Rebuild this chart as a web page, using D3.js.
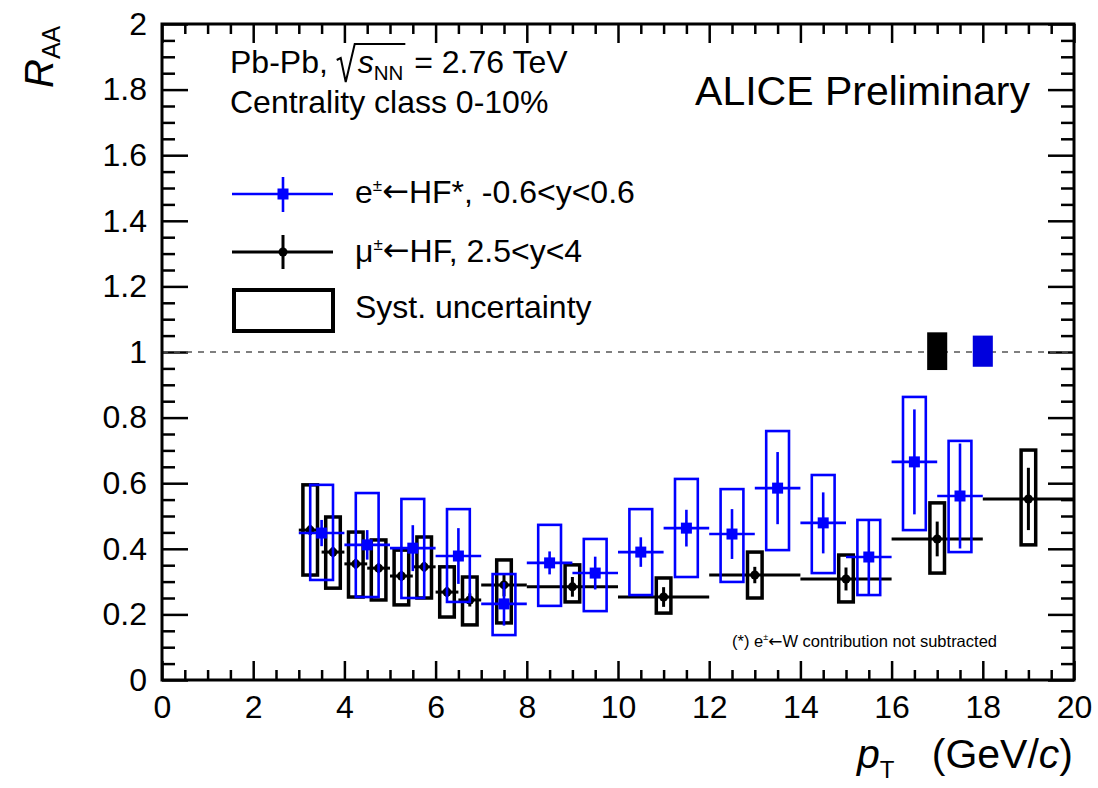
<!DOCTYPE html>
<html>
<head>
<meta charset="utf-8">
<script src="https://cdn.jsdelivr.net/npm/d3@7"></script>
<style>
  body { margin: 0; background: #fff; }
  svg { display: block; }
  text { font-family: "Liberation Sans", Arial, Helvetica, sans-serif; fill: #000; }
</style>
</head>
<body>
<svg id="chart" width="1098" height="788"></svg>
<script>
// ---- Heavy-flavour decay electrons, |y| < 0.6 (pT bins of 1 GeV/c) ----
const ePtLo   = [3, 4, 5, 6, 7, 8, 9, 10, 11, 12, 13, 14, 15, 16, 17];
const ePtHi   = [4, 5, 6, 7, 8, 9, 10, 11, 12, 13, 14, 15, 16, 17, 18];
const eRaa    = [0.448, 0.412, 0.402, 0.378, 0.232, 0.357, 0.326, 0.390, 0.463, 0.445, 0.585, 0.479, 0.375, 0.665, 0.561];
const eStat   = [0.040, 0.045, 0.070, 0.085, 0.066, 0.035, 0.050, 0.045, 0.056, 0.076, 0.110, 0.093, 0.115, 0.160, 0.160];
const eSysLo  = [0.305, 0.253, 0.250, 0.238, 0.137, 0.226, 0.210, 0.259, 0.314, 0.299, 0.396, 0.326, 0.259, 0.457, 0.390];
const eSysHi  = [0.595, 0.570, 0.552, 0.521, 0.323, 0.473, 0.430, 0.521, 0.613, 0.582, 0.759, 0.625, 0.488, 0.863, 0.729];

// ---- Heavy-flavour decay muons, 2.5 < y < 4 ----
const muPtLo  = [3.0, 3.5, 4.0, 4.5, 5.0, 5.5, 6.0, 6.5, 7, 8, 10, 12, 14, 16, 18];
const muPtHi  = [3.5, 4.0, 4.5, 5.0, 5.5, 6.0, 6.5, 7.0, 8, 10, 12, 14, 16, 18, 20];
const muRaa   = [0.457, 0.390, 0.354, 0.341, 0.317, 0.345, 0.268, 0.244, 0.290, 0.284, 0.253, 0.320, 0.308, 0.430, 0.552];
const muStat  = [0.015, 0.015, 0.015, 0.015, 0.015, 0.015, 0.015, 0.020, 0.035, 0.030, 0.030, 0.025, 0.035, 0.053, 0.095];
const muSysLo = [0.320, 0.280, 0.253, 0.244, 0.229, 0.250, 0.192, 0.168, 0.174, 0.238, 0.204, 0.250, 0.238, 0.326, 0.412];
const muSysHi = [0.595, 0.497, 0.451, 0.427, 0.396, 0.436, 0.345, 0.314, 0.366, 0.351, 0.311, 0.390, 0.381, 0.540, 0.701];

// ---- Normalisation uncertainties at R_AA = 1 ----
const normSeries = ["mu", "e"];
const normPt     = [17, 18];
const normLo     = [0.945, 0.955];
const normHi     = [1.060, 1.050];

// ---- Axis ticks ----
const xMajorTicks = d3.range(0, 20.001, 2);
const xMinorTicks = d3.range(0, 20.001, 0.5).filter(v => Math.abs(v / 2 - Math.round(v / 2)) > 1e-6);
const yMajorTicks = d3.range(0, 2.0001, 0.2).map(v => +v.toFixed(2));
const yMinorTicks = d3.range(0, 2.0001, 0.05).map(v => +v.toFixed(2)).filter(v => Math.abs(v / 0.2 - Math.round(v / 0.2)) > 1e-6);

// ---- Styling ----
const BLUE = "#0000ff";
const FONT = "\"Liberation Sans\", Arial, Helvetica, sans-serif";
const ARROW_FONT = "\"DejaVu Sans\", sans-serif";
const eBoxHalf = 0.25, muBoxHalf = 0.16;

const svg = d3.select("#chart");
const pLeft = 162, pRight = 1074, pTop = 24, pBottom = 680;
const x = d3.scaleLinear().domain([0, 20]).range([pLeft, pRight]);
const y = d3.scaleLinear().domain([0, 2]).range([pBottom, pTop]);

// ---- Axes (ticks pointing into the frame) ----
function styleAxis(g, width) {
  g.select(".domain").remove();
  g.selectAll(".tick line").attr("stroke", "#000").attr("stroke-width", width);
  g.selectAll(".tick text").attr("font-size", 32).style("font-family", FONT).attr("fill", "#000");
}
const yFmt = d => String(+d.toFixed(1));

svg.append("g").attr("transform", `translate(0,${pBottom})`)
  .call(d3.axisBottom(x).tickValues(xMajorTicks).tickSize(-19).tickPadding(15).tickFormat(d3.format("d")))
  .call(g => styleAxis(g, 2.5));
svg.append("g").attr("transform", `translate(0,${pBottom})`)
  .call(d3.axisBottom(x).tickValues(xMinorTicks).tickSize(-10).tickFormat(""))
  .call(g => styleAxis(g, 2.5));
svg.append("g").attr("transform", `translate(0,${pTop})`)
  .call(d3.axisTop(x).tickValues(xMajorTicks).tickSize(-19).tickFormat(""))
  .call(g => styleAxis(g, 2.5));
svg.append("g").attr("transform", `translate(0,${pTop})`)
  .call(d3.axisTop(x).tickValues(xMinorTicks).tickSize(-10).tickFormat(""))
  .call(g => styleAxis(g, 2.5));

svg.append("g").attr("transform", `translate(${pLeft},0)`)
  .call(d3.axisLeft(y).tickValues(yMajorTicks).tickSize(-26).tickPadding(15).tickFormat(yFmt))
  .call(g => styleAxis(g, 2.5));
svg.append("g").attr("transform", `translate(${pLeft},0)`)
  .call(d3.axisLeft(y).tickValues(yMinorTicks).tickSize(-13).tickFormat(""))
  .call(g => styleAxis(g, 2.5));
svg.append("g").attr("transform", `translate(${pRight},0)`)
  .call(d3.axisRight(y).tickValues(yMajorTicks).tickSize(-26).tickFormat(""))
  .call(g => styleAxis(g, 2.5));
svg.append("g").attr("transform", `translate(${pRight},0)`)
  .call(d3.axisRight(y).tickValues(yMinorTicks).tickSize(-13).tickFormat(""))
  .call(g => styleAxis(g, 2.5));

// Reference line at R_AA = 1
svg.append("line")
  .attr("x1", x(0)).attr("x2", x(20)).attr("y1", y(1)).attr("y2", y(1))
  .attr("stroke", "#555").attr("stroke-width", 1.6).attr("stroke-dasharray", "6,6");

// ---- Normalisation boxes ----
svg.append("g").selectAll("rect").data(normSeries).join("rect")
  .attr("x", (d, i) => x(normPt[i] - 0.22))
  .attr("width", (d, i) => x(normPt[i] + 0.22) - x(normPt[i] - 0.22))
  .attr("y", (d, i) => y(normHi[i]))
  .attr("height", (d, i) => y(normLo[i]) - y(normHi[i]))
  .attr("fill", d => d === "e" ? "#0000dd" : "#000");

// ---- Data series ----
function drawSeries(lo, hi, val, stat, sysLo, sysHi, opt) {
  const idx = d3.range(val.length);
  const g = svg.append("g");
  const mid = i => (lo[i] + hi[i]) / 2;
  // systematic boxes
  g.selectAll("rect.sys").data(idx).join("rect").attr("class", "sys")
    .attr("x", i => x(mid(i) - opt.boxHalf))
    .attr("width", i => x(mid(i) + opt.boxHalf) - x(mid(i) - opt.boxHalf))
    .attr("y", i => y(sysHi[i]))
    .attr("height", i => y(sysLo[i]) - y(sysHi[i]))
    .attr("fill", "none").attr("stroke", opt.color).attr("stroke-width", opt.boxWidth);
  // horizontal bin-width bars
  g.selectAll("line.h").data(idx).join("line").attr("class", "h")
    .attr("x1", i => x(lo[i])).attr("x2", i => x(hi[i]))
    .attr("y1", i => y(val[i])).attr("y2", i => y(val[i]))
    .attr("stroke", opt.color).attr("stroke-width", opt.lineWidth);
  // statistical error bars
  g.selectAll("line.v").data(idx).join("line").attr("class", "v")
    .attr("x1", i => x(mid(i))).attr("x2", i => x(mid(i)))
    .attr("y1", i => y(val[i] - stat[i])).attr("y2", i => y(val[i] + stat[i]))
    .attr("stroke", opt.color).attr("stroke-width", opt.lineWidth);
  // markers
  if (opt.marker === "square") {
    g.selectAll("rect.m").data(idx).join("rect").attr("class", "m")
      .attr("x", i => x(mid(i)) - 5.5).attr("y", i => y(val[i]) - 5.5)
      .attr("width", 11).attr("height", 11).attr("fill", opt.color);
  } else {
    g.selectAll("circle.m").data(idx).join("circle").attr("class", "m")
      .attr("cx", i => x(mid(i))).attr("cy", i => y(val[i])).attr("r", 4.5).attr("fill", opt.color);
  }
}
drawSeries(muPtLo, muPtHi, muRaa, muStat, muSysLo, muSysHi,
  { color: "#000", boxHalf: muBoxHalf, boxWidth: 3.5, lineWidth: 3, marker: "circle" });
drawSeries(ePtLo, ePtHi, eRaa, eStat, eSysLo, eSysHi,
  { color: BLUE, boxHalf: eBoxHalf, boxWidth: 2.6, lineWidth: 2.6, marker: "square" });

// ---- Frame ----
svg.append("rect").attr("x", pLeft).attr("y", pTop)
  .attr("width", pRight - pLeft).attr("height", pBottom - pTop)
  .attr("fill", "none").attr("stroke", "#000").attr("stroke-width", 3);

// ---- Rich text helper: lays out runs of differently styled text ----
function textRuns(parent, x0, y0, parts, anchor) {
  const g = parent.append("g");
  let cx = 0;
  const placed = [];
  parts.forEach(p => {
    const t = g.append("text")
      .attr("x", cx).attr("y", p.dy || 0)
      .attr("font-size", p.size)
      .attr("font-style", p.italic ? "italic" : null)
      .attr("fill", p.color || "#000")
      .style("white-space", "pre")
      .text(p.t);
    if (p.family) t.style("font-family", p.family);
    const w = p.t.length ? t.node().getComputedTextLength() : 0;
    placed.push({ x: cx, w });
    cx += w + (p.gap || 0);
  });
  const shift = anchor === "end" ? -cx : 0;
  g.attr("transform", `translate(${x0 + shift},${y0})`);
  return { g, placed, width: cx };
}

// ---- Header ----
const hdr = textRuns(svg, 230, 73, [
  { t: "Pb-Pb, ", size: 32 },
  { t: "", size: 32, gap: 21 },
  { t: "s", size: 32, italic: true },
  { t: "NN", size: 20.5, dy: 7, gap: 2 },
  { t: " = 2.76 TeV", size: 32 }
]);
{
  const rx = hdr.placed[1].x;
  const endNN = hdr.placed[3].x + hdr.placed[3].w + 2;
  hdr.g.append("path")
    .attr("d", `M${rx},-13 L${rx + 4},-15 L${rx + 9},9 L${rx + 18},-29 L${endNN},-29`)
    .attr("fill", "none").attr("stroke", "#000").attr("stroke-width", 2);
}
textRuns(svg, 230, 113, [{ t: "Centrality class 0-10%", size: 32 }]);
textRuns(svg, 1030, 105, [{ t: "ALICE Preliminary", size: 41 }], "end");

// ---- Legend ----
const leg = svg.append("g");
// electrons
leg.append("line").attr("x1", 232).attr("x2", 333).attr("y1", 194).attr("y2", 194)
  .attr("stroke", BLUE).attr("stroke-width", 2.6);
leg.append("line").attr("x1", 283).attr("x2", 283).attr("y1", 177).attr("y2", 212)
  .attr("stroke", BLUE).attr("stroke-width", 2.6);
leg.append("rect").attr("x", 277.5).attr("y", 188.5).attr("width", 11).attr("height", 11).attr("fill", BLUE);
// muons
leg.append("line").attr("x1", 232).attr("x2", 333).attr("y1", 252).attr("y2", 252)
  .attr("stroke", "#000").attr("stroke-width", 3);
leg.append("line").attr("x1", 283).attr("x2", 283).attr("y1", 235).attr("y2", 269)
  .attr("stroke", "#000").attr("stroke-width", 3);
leg.append("circle").attr("cx", 283).attr("cy", 252).attr("r", 4.5).attr("fill", "#000");
// systematic box
leg.append("rect").attr("x", 234).attr("y", 290).attr("width", 99).attr("height", 41)
  .attr("fill", "none").attr("stroke", "#000").attr("stroke-width", 4);

textRuns(svg, 355, 203, [
  { t: "e", size: 32 },
  { t: "±", size: 17, dy: -12 },
  { t: "←", size: 32, family: ARROW_FONT, dy: -1 },
  { t: "HF*, -0.6<y<0.6", size: 32 }
]);
textRuns(svg, 355, 262, [
  { t: "μ", size: 32 },
  { t: "±", size: 17, dy: -12 },
  { t: "←", size: 32, family: ARROW_FONT, dy: -1 },
  { t: "HF, 2.5<y<4", size: 32 }
]);
textRuns(svg, 355, 318, [{ t: "Syst. uncertainty", size: 32 }]);

// ---- Footnote ----
textRuns(svg, 732, 647, [
  { t: "(*) e", size: 16.5, color: "#222" },
  { t: "±", size: 9, dy: -7, color: "#222" },
  { t: "←", size: 17, family: ARROW_FONT, color: "#222" },
  { t: "W contribution not subtracted", size: 16.5, color: "#222" }
]);

// ---- Axis titles ----
textRuns(svg, 1073, 768, [
  { t: "p", size: 41, italic: true },
  { t: "T", size: 24, dy: 10, gap: 26 },
  { t: " (GeV/", size: 41 },
  { t: "c", size: 41, italic: true },
  { t: ")", size: 41 }
], "end");

const yTitle = svg.append("g").attr("transform", "translate(53,88) rotate(-90)");
textRuns(yTitle, 0, 0, [
  { t: "R", size: 40, italic: true },
  { t: "AA", size: 25, dy: 7 }
]);
</script>
</body>
</html>
